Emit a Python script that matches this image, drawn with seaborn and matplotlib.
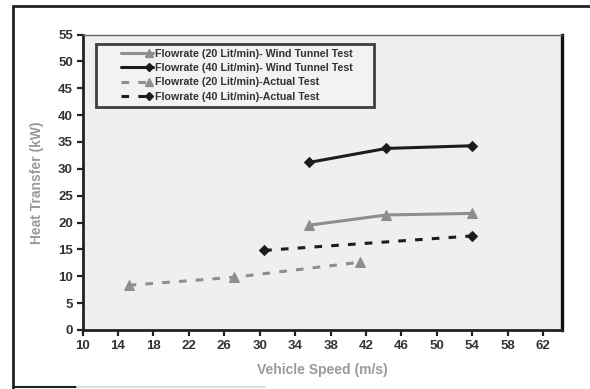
import matplotlib
matplotlib.use("Agg")
import matplotlib.pyplot as plt
from matplotlib.lines import Line2D
from matplotlib.legend_handler import HandlerLine2D
import seaborn as sns
import pandas as pd

# Heat transfer vs vehicle speed
speed_wt = [35.6, 44.3, 54.0]
heat_wt_20 = [19.5, 21.4, 21.7]
heat_wt_40 = [31.2, 33.8, 34.3]

speed_act_20 = [15.2, 27.1, 41.3]
heat_act_20 = [8.3, 9.8, 12.6]
speed_act_40 = [30.5, 54.0]
heat_act_40 = [14.8, 17.5]

labels = [
    "Flowrate (20 Lit/min)- Wind Tunnel Test",
    "Flowrate (40 Lit/min)- Wind Tunnel Test",
    "Flowrate (20 Lit/min)-Actual Test",
    "Flowrate (40 Lit/min)-Actual Test",
]
x_ticks = list(range(10, 63, 4))
y_ticks = list(range(0, 56, 5))

sns.set_theme(style="white")
plt.rcParams["font.family"] = ["Liberation Sans", "DejaVu Sans"]
plt.rcParams["font.weight"] = "bold"

GRAY = "#8e8e8e"
BLACK = "#1c1c1c"


class RightMarkerHandler(HandlerLine2D):
    """Legend key drawn in the right part of the slot, marker near its end."""

    def __init__(self, span=0.6, **kw):
        super().__init__(**kw)
        self.span = span

    def create_artists(self, legend, orig_handle, xdescent, ydescent,
                       width, height, fontsize, trans):
        arts = super().create_artists(legend, orig_handle, xdescent, ydescent,
                                      width, height, fontsize, trans)
        x1 = width - xdescent
        x0 = x1 - width * self.span
        xm = x1 - 0.12 * width * self.span
        ymid = (height - ydescent) / 2
        if len(arts) == 1:
            art = arts[0]
            art.set_data([x0, xm, x1], [ymid, ymid, ymid])
            art.set_markevery([1])
        else:
            arts[0].set_data([x0, x1], [ymid, ymid])
            arts[-1].set_data([xm], [ymid])
        return arts


fig = plt.figure(figsize=(5.9, 3.89), dpi=100)
ax = fig.add_axes([0.140, 0.152, 0.812, 0.759])
ax.set_facecolor("#efefef")

series = [
    (speed_wt, heat_wt_20, GRAY, "^", "-", 7),
    (speed_wt, heat_wt_40, BLACK, "D", "-", 5.5),
    (speed_act_20, heat_act_20, GRAY, "^", (0, (2.5, 3)), 7),
    (speed_act_40, heat_act_40, BLACK, "D", (0, (2.5, 3)), 5.5),
]
handles = []
for (xs, ys, col, mk, ls, ms), lab in zip(series, labels):
    df = pd.DataFrame({"x": xs, "y": ys})
    sns.lineplot(data=df, x="x", y="y", ax=ax, color=col, marker=mk,
                 markersize=ms, markeredgecolor=col, linewidth=2.2,
                 linestyle=ls, legend=False)
    handles.append(Line2D([], [], color=col, marker=mk, markersize=ms - 1,
                          markeredgecolor=col, linewidth=2.2, linestyle=ls))

ax.set_xlim(10, 64.1)
ax.set_ylim(0, 55)
ax.set_xticks(x_ticks)
ax.set_yticks(y_ticks)
ax.tick_params(axis="both", direction="out", length=4, width=1.6,
               color="#222222", labelsize=9.5, labelcolor="#333333", pad=3)
ax.xaxis.set_ticks_position("bottom")
ax.yaxis.set_ticks_position("left")
for lab in ax.get_xticklabels() + ax.get_yticklabels():
    lab.set_fontweight("bold")

for side, lw, col in [("left", 2.0, "#222222"), ("bottom", 2.0, "#222222"),
                      ("right", 2.4, "#111111"), ("top", 1.0, "#666666")]:
    ax.spines[side].set_visible(True)
    ax.spines[side].set_linewidth(lw)
    ax.spines[side].set_color(col)

ax.set_xlabel("Vehicle Speed (m/s)", fontsize=10, fontweight="bold",
              color="#9a9a9a", labelpad=8)
ax.set_ylabel("Heat Transfer (kW)", fontsize=10, fontweight="bold",
              color="#9a9a9a", labelpad=10)

handler_map = {h: RightMarkerHandler(span=0.62) for h in handles}
leg = ax.legend(handles, labels, loc="upper left",
                bbox_to_anchor=(0.029, 0.78, 0.58, 0.188), mode="expand",
                borderaxespad=0.0,
                frameon=True, fancybox=False, handlelength=4.8,
                handletextpad=0.25, labelspacing=0.4, borderpad=0.45,
                numpoints=1, handler_map=handler_map,
                prop={"weight": "bold", "size": 7.7})
frame = leg.get_frame()
frame.set_edgecolor("#111111")
frame.set_linewidth(2.0)
frame.set_facecolor("#f4f4f4")
for t in leg.get_texts():
    t.set_color("#333333")

# outer frame lines
fig.add_artist(Line2D([13 / 590, 1.0], [1 - 6 / 389, 1 - 6 / 389],
                      transform=fig.transFigure, color="#222222", linewidth=2.0))
fig.add_artist(Line2D([13 / 590, 13 / 590], [0.0, 1 - 6 / 389],
                      transform=fig.transFigure, color="#222222", linewidth=2.0))
fig.add_artist(Line2D([13 / 590, 77 / 590], [2 / 389, 2 / 389],
                      transform=fig.transFigure, color="#222222", linewidth=1.5))
fig.add_artist(Line2D([77 / 590, 265 / 590], [2 / 389, 2 / 389],
                      transform=fig.transFigure, color="#dddddd", linewidth=1.5))

fig.savefig("out.png", dpi=100, facecolor="white")
